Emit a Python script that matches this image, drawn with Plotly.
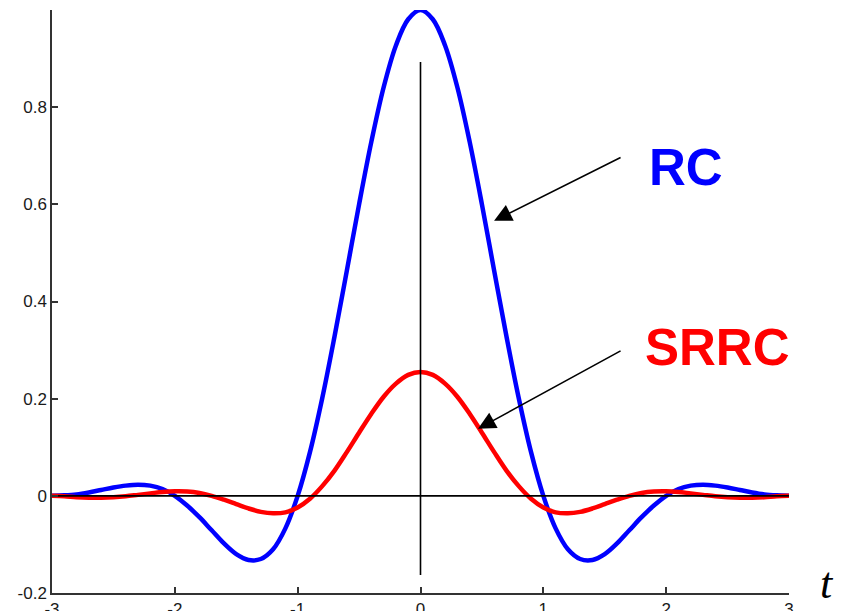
import plotly.graph_objects as go

# time axis (t) and pulse values
t = [-3.0, -2.9, -2.8, -2.7, -2.6, -2.5, -2.4, -2.3, -2.2, -2.1,
     -2.0, -1.9, -1.8, -1.7, -1.6, -1.5, -1.4, -1.3, -1.2, -1.1,
     -1.0, -0.9, -0.8, -0.7, -0.6, -0.5, -0.4, -0.3, -0.2, -0.1,
     0.0, 0.1, 0.2, 0.3, 0.4, 0.5, 0.6, 0.7, 0.8, 0.9,
     1.0, 1.1, 1.2, 1.3, 1.4, 1.5, 1.6, 1.7, 1.8, 1.9,
     2.0, 2.1, 2.2, 2.3, 2.4, 2.5, 2.6, 2.7, 2.8, 2.9, 3.0]

rc = [0.0, 0.001, 0.003, 0.007, 0.012, 0.017, 0.021, 0.023, 0.021, 0.014,
      0.0, -0.020, -0.044, -0.071, -0.098, -0.120, -0.132, -0.130, -0.110, -0.067,
      0.0, 0.090, 0.201, 0.328, 0.463, 0.600, 0.729, 0.841, 0.927, 0.981,
      1.0, 0.981, 0.927, 0.841, 0.729, 0.600, 0.463, 0.328, 0.201, 0.090,
      0.0, -0.067, -0.110, -0.130, -0.132, -0.120, -0.098, -0.071, -0.044, -0.020,
      0.0, 0.014, 0.021, 0.023, 0.021, 0.017, 0.012, 0.007, 0.003, 0.001, 0.0]

srrc = [0.0, -0.001, -0.003, -0.004, -0.004, -0.003, -0.001, 0.002, 0.005, 0.008,
        0.0095, 0.009, 0.006, 0.000, -0.008, -0.017, -0.026, -0.033, -0.036, -0.034,
        -0.024, -0.006, 0.020, 0.052, 0.090, 0.130, 0.169, 0.204, 0.231, 0.249,
        0.255, 0.249, 0.231, 0.204, 0.169, 0.130, 0.090, 0.052, 0.020, -0.006,
        -0.024, -0.034, -0.036, -0.033, -0.026, -0.017, -0.008, 0.000, 0.006, 0.009,
        0.0095, 0.008, 0.005, 0.002, -0.001, -0.003, -0.004, -0.004, -0.003, -0.001, 0.0]

x_ticks = [-3, -2, -1, 0, 1, 2, 3]
y_ticks = [-0.2, 0, 0.2, 0.4, 0.6, 0.8]
y_tick_labels = ["-0.2", "0", "0.2", "0.4", "0.6", "0.8"]

# reference lines
hline_x = [-3, 3]
hline_y = [0, 0]
vline_x = [0, 0]
vline_y = [-0.163, 0.893]

fig = go.Figure()
fig.add_trace(go.Scatter(x=t, y=rc, mode="lines", line=dict(color="#0000FF", width=4.5, shape="spline"),
                         showlegend=False, hoverinfo="skip"))
fig.add_trace(go.Scatter(x=t, y=srrc, mode="lines", line=dict(color="#FF0000", width=4.5, shape="spline"),
                         showlegend=False, hoverinfo="skip"))
fig.add_trace(go.Scatter(x=hline_x, y=hline_y, mode="lines", line=dict(color="black", width=1.6),
                         showlegend=False, hoverinfo="skip"))
fig.add_trace(go.Scatter(x=vline_x, y=vline_y, mode="lines", line=dict(color="black", width=1.6),
                         showlegend=False, hoverinfo="skip"))

axis_font = dict(family="Liberation Sans, Arial, sans-serif", size=17, color="#1a1a1a")

fig.update_layout(
    width=843, height=611,
    margin=dict(l=52, r=54, t=10, b=18),
    paper_bgcolor="white", plot_bgcolor="white",
    xaxis=dict(range=[-3, 3], tickvals=x_ticks, ticktext=[str(v) for v in x_ticks],
               showgrid=False, zeroline=False, showline=True, linecolor="#333333", linewidth=1.5,
               ticks="inside", ticklen=6, tickwidth=1.5, tickcolor="#333333",
               tickfont=axis_font, fixedrange=True, automargin=False),
    yaxis=dict(range=[-0.2, 1.0], tickvals=y_ticks, ticktext=y_tick_labels,
               showgrid=False, zeroline=False, showline=True, linecolor="#333333", linewidth=1.5,
               ticks="inside", ticklen=6, tickwidth=1.5, tickcolor="#333333",
               tickfont=axis_font, fixedrange=True, automargin=False),
)

# arrows
fig.add_annotation(x=0.599, y=0.566, ax=1.641, ay=0.698, xref="x", yref="y", axref="x", ayref="y",
                   showarrow=True, arrowhead=2, arrowsize=2.2, arrowwidth=1.6, arrowcolor="black", text="")
fig.add_annotation(x=0.468, y=0.138, ax=1.641, ay=0.300, xref="x", yref="y", axref="x", ayref="y",
                   showarrow=True, arrowhead=2, arrowsize=2.2, arrowwidth=1.6, arrowcolor="black", text="")

# labels
label_font = "Liberation Sans, Arial, sans-serif"
fig.add_annotation(x=2.162, y=0.675, xref="x", yref="y", text="<b>RC</b>", showarrow=False,
                   font=dict(family=label_font, size=51, color="#0000FF"), xanchor="center", yanchor="middle")
fig.add_annotation(x=2.414, y=0.305, xref="x", yref="y", text="<b>SRRC</b>", showarrow=False,
                   font=dict(family=label_font, size=51, color="#FF0000"), xanchor="center", yanchor="middle")
fig.add_annotation(x=1.0516, y=0.017, xref="paper", yref="paper", text="<i>t</i>", showarrow=False,
                   font=dict(family="Liberation Serif, Times New Roman, serif", size=44, color="black"),
                   xanchor="center", yanchor="middle")

fig.write_html("out.html")
